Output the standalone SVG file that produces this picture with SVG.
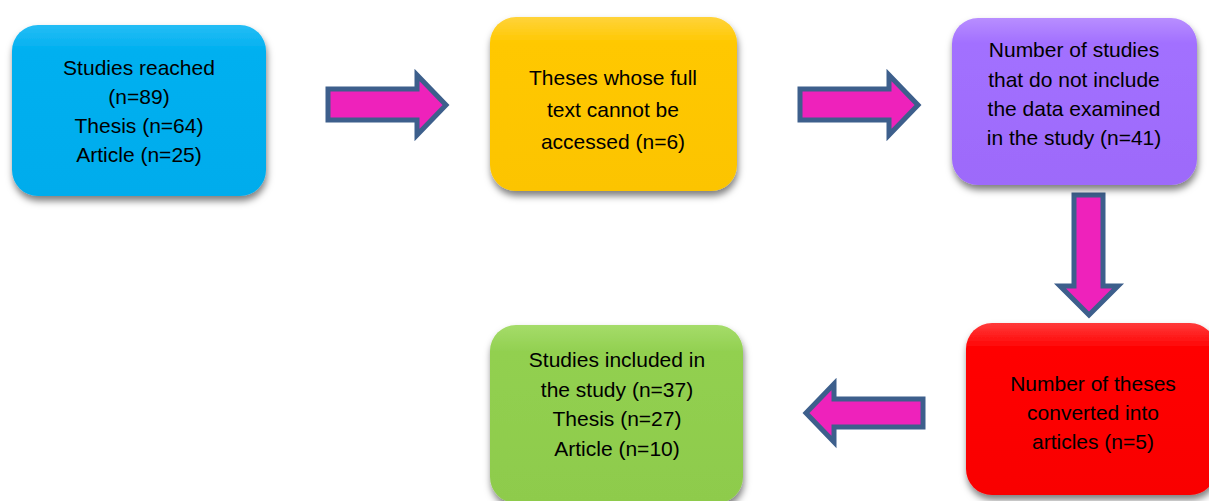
<svg xmlns="http://www.w3.org/2000/svg" width="1209" height="501" viewBox="0 0 1209 501">
<style>
  .lbl { font-family: "Liberation Sans", Arial, sans-serif; font-size: 21px; fill: #000; text-anchor: middle; }
  .arrow { fill: #EE22BB; stroke: #3D5F8C; stroke-width: 5; stroke-linejoin: miter; }
</style>
<defs>
  <filter id="sh" x="-10%" y="-10%" width="125%" height="130%">
    <feDropShadow dx="1" dy="5" stdDeviation="3.5" flood-color="#000" flood-opacity="0.5"/>
  </filter>
  <linearGradient id="gBlue" x1="0" y1="0" x2="0" y2="1">
    <stop offset="0" stop-color="#25BDF5"/><stop offset="0.15" stop-color="#00B0F0"/><stop offset="1" stop-color="#00ACEC"/>
  </linearGradient>
  <linearGradient id="gYellow" x1="0" y1="0" x2="0" y2="1">
    <stop offset="0" stop-color="#FFD33A"/><stop offset="0.15" stop-color="#FFC800"/><stop offset="1" stop-color="#FCC400"/>
  </linearGradient>
  <linearGradient id="gPurple" x1="0" y1="0" x2="0" y2="1">
    <stop offset="0" stop-color="#B88EFF"/><stop offset="0.15" stop-color="#A270FF"/><stop offset="1" stop-color="#9D6AFA"/>
  </linearGradient>
  <linearGradient id="gRed" x1="0" y1="0" x2="0" y2="1">
    <stop offset="0" stop-color="#FF3A3A"/><stop offset="0.15" stop-color="#FF0000"/><stop offset="1" stop-color="#F90000"/>
  </linearGradient>
  <linearGradient id="gGreen" x1="0" y1="0" x2="0" y2="1">
    <stop offset="0" stop-color="#A5DC6A"/><stop offset="0.15" stop-color="#92D050"/><stop offset="1" stop-color="#8ECB4C"/>
  </linearGradient>
</defs>

<g id="connectors">
  <polygon class="arrow" points="328,89 417,89 417,75 446,105 417,135 417,120 328,120"/>
  <polygon class="arrow" points="800,89 889,89 889,75 918,105 889,135 889,120 800,120"/>
  <polygon class="arrow" points="1074,195 1103,195 1103,286 1118,286 1089,315 1060,286 1074,286"/>
  <polygon class="arrow" points="923,399 834,399 834,384 806,413 834,442 834,427 923,427"/>
</g>

<g id="node-reached">
  <rect x="12" y="25" width="254" height="171" rx="26" fill="url(#gBlue)" filter="url(#sh)"/>
  <text class="lbl" x="139" y="75">Studies reached</text>
  <text class="lbl" x="139" y="104">(n=89)</text>
  <text class="lbl" x="139" y="133">Thesis (n=64)</text>
  <text class="lbl" x="139" y="162">Article (n=25)</text>
</g>

<g id="node-fulltext">
  <rect x="490" y="17" width="247" height="174" rx="26" fill="url(#gYellow)" filter="url(#sh)"/>
  <text class="lbl" x="613" y="85">Theses whose full</text>
  <text class="lbl" x="613" y="117">text cannot be</text>
  <text class="lbl" x="613" y="149">accessed (n=6)</text>
</g>

<g id="node-nodata">
  <rect x="952" y="18" width="245" height="167" rx="26" fill="url(#gPurple)" filter="url(#sh)"/>
  <text class="lbl" x="1074" y="57">Number of studies</text>
  <text class="lbl" x="1074" y="87">that do not include</text>
  <text class="lbl" x="1074" y="116">the data examined</text>
  <text class="lbl" x="1074" y="145">in the study (n=41)</text>
</g>

<g id="node-converted">
  <rect x="966" y="323" width="250" height="172" rx="26" fill="url(#gRed)" filter="url(#sh)"/>
  <text class="lbl" x="1093" y="391">Number of theses</text>
  <text class="lbl" x="1093" y="420">converted into</text>
  <text class="lbl" x="1093" y="449">articles (n=5)</text>
</g>

<g id="node-included">
  <rect x="490" y="325" width="253" height="178" rx="26" fill="url(#gGreen)" filter="url(#sh)"/>
  <text class="lbl" x="617" y="367">Studies included in</text>
  <text class="lbl" x="617" y="397">the study (n=37)</text>
  <text class="lbl" x="617" y="426">Thesis (n=27)</text>
  <text class="lbl" x="617" y="456">Article (n=10)</text>
</g>
</svg>
